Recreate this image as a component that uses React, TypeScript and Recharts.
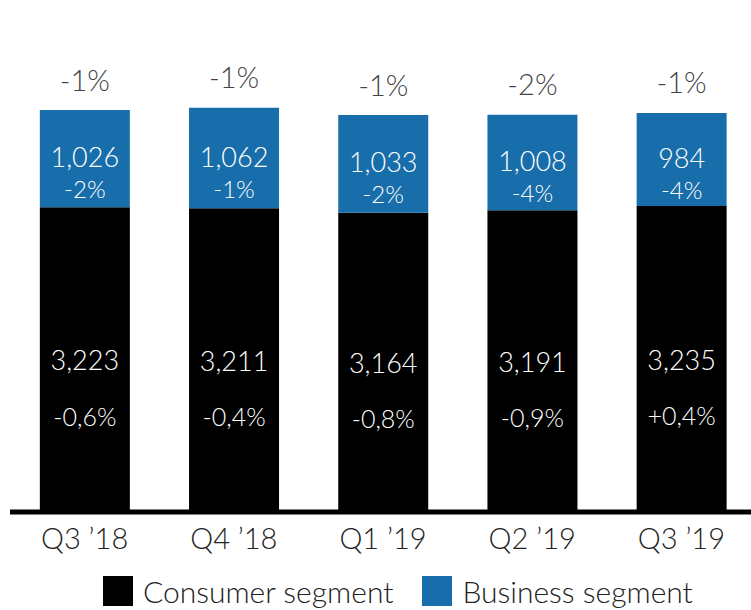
import { BarChart, Bar, XAxis, YAxis, Legend, LabelList } from "recharts"

const quarters = ["Q3 ’18", "Q4 ’18", "Q1 ’19", "Q2 ’19", "Q3 ’19"]
const consumer = [3223, 3211, 3164, 3191, 3235]
const consumerChange = ["-0,6%", "-0,4%", "-0,8%", "-0,9%", "+0,4%"]
const business = [1026, 1062, 1033, 1008, 984]
const businessChange = ["-2%", "-1%", "-2%", "-4%", "-4%"]
const totalChange = ["-1%", "-1%", "-1%", "-2%", "-1%"]

const BLUE = "#186eaa"
const FONT = "Lato, 'Open Sans', sans-serif"

const data = quarters.map((q, i) => ({
  quarter: q,
  consumer: consumer[i],
  business: business[i],
}))

const fmt = (v: number) => v.toLocaleString("en-US")

function ConsumerLabel(props: any) {
  const { x, y, width, height, index } = props
  const cx = x + width / 2
  const cy = y + height / 2
  return (
    <g fontFamily={FONT} fontWeight={300} textAnchor="middle">
      <text x={cx} y={cy} dominantBaseline="central" fontSize={27} fill="#fff">
        {fmt(consumer[index])}
      </text>
      <text x={cx} y={cy + 56} dominantBaseline="central" fontSize={25} fill="#fff">
        {consumerChange[index]}
      </text>
    </g>
  )
}

function BusinessLabel(props: any) {
  const { x, y, width, height, index } = props
  const cx = x + width / 2
  const cy = y + height / 2
  return (
    <g fontFamily={FONT} fontWeight={300} textAnchor="middle">
      <text x={cx} y={cy - 2} dominantBaseline="central" fontSize={27} fill="#fff">
        {fmt(business[index])}
      </text>
      <text x={cx} y={cy + 30} dominantBaseline="central" fontSize={24} fill="#fff">
        {businessChange[index]}
      </text>
      <text x={cx} y={y - 31} dominantBaseline="central" fontSize={29} fill="#444">
        {totalChange[index]}
      </text>
    </g>
  )
}

function QuarterTick(props: any) {
  const { x, y, payload } = props
  return (
    <text x={x} y={y + 29} textAnchor="middle" fontFamily={FONT} fontWeight={300} fontSize={29} fill="#222">
      {payload.value}
    </text>
  )
}

function LegendBox() {
  const item = (color: string, label: string, gap: number) => (
    <div style={{ display: "flex", alignItems: "center", marginRight: gap }}>
      <div style={{ width: 30, height: 30, background: color, marginRight: 10 }} />
      <span style={{ fontSize: 30, fontWeight: 300, color: "#222", lineHeight: "38px" }}>{label}</span>
    </div>
  )
  return (
    <div style={{ display: "flex", height: 38, paddingLeft: 103, fontFamily: FONT }}>
      {item("#000", "Consumer segment", 29)}
      {item(BLUE, "Business segment", 0)}
    </div>
  )
}

export default function App() {
  return (
    <div style={{ position: "absolute", left: 0, top: 0, width: 751, height: 610, overflow: "hidden", background: "#fff" }}>
      <BarChart
        width={756}
        height={610}
        data={data}
        margin={{ top: 58, right: 0, left: 10, bottom: 0 }}
        barCategoryGap="20%"
      >
        <XAxis
          dataKey="quarter"
          height={60}
          axisLine={{ stroke: "#000", strokeWidth: 5 }}
          tickLine={false}
          tick={<QuarterTick />}
          interval={0}
        />
        <YAxis hide domain={[0, 4800]} />
        <Legend
          verticalAlign="bottom"
          content={<LegendBox />}
          wrapperStyle={{ left: 0, width: 751, height: 38 }}
        />
        <Bar dataKey="consumer" stackId="a" fill="#000" isAnimationActive={false}>
          <LabelList dataKey="consumer" content={<ConsumerLabel />} />
        </Bar>
        <Bar dataKey="business" stackId="a" fill={BLUE} isAnimationActive={false}>
          <LabelList dataKey="business" content={<BusinessLabel />} />
        </Bar>
      </BarChart>
    </div>
  )
}
